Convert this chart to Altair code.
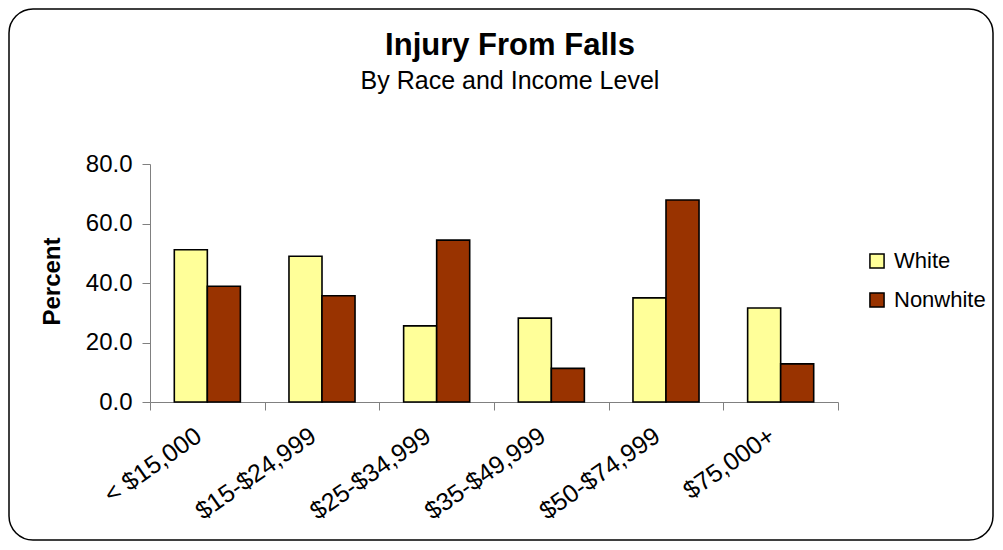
import altair as alt
import pandas as pd

categories = ["< $15,000", "$15-$24,999", "$25-$34,999", "$35-$49,999", "$50-$74,999", "$75,000+"]
white = [51.2, 49.0, 25.6, 28.2, 35.0, 31.6]
nonwhite = [38.9, 35.7, 54.4, 11.3, 67.9, 12.8]
series = ["White", "Nonwhite"]
colors = ["#FFFF99", "#993300"]
y_ticks = [0, 20, 40, 60, 80]

rows = []
for c, w, n in zip(categories, white, nonwhite):
    rows.append({"income": c, "race": "White", "pct": w})
    rows.append({"income": c, "race": "Nonwhite", "pct": n})
df = pd.DataFrame(rows)

FONT = "Liberation Sans"

bars = alt.Chart(df).mark_bar(stroke="black", strokeWidth=1.6).encode(
    x=alt.X("income:N", sort=categories,
            scale=alt.Scale(paddingInner=0, paddingOuter=0),
            axis=alt.Axis(title=None, labelAngle=-35, labelAlign="right", labelBaseline="top",
                          labelFontSize=25, labelFont=FONT, labelColor="black",
                          labelPadding=13, labelOffset=-16, tickBand="extent", tickSize=8,
                          tickColor="#808080", domainColor="#808080", labelOverlap=False)),
    xOffset=alt.XOffset("race:N", sort=series,
                        scale=alt.Scale(paddingInner=0, paddingOuter=0.736)),
    y=alt.Y("pct:Q", scale=alt.Scale(domain=[0, 80], nice=False),
            axis=alt.Axis(title="Percent", values=y_ticks, format=".1f", grid=False,
                          labelFontSize=24, labelFont=FONT, labelColor="black",
                          labelPadding=10, tickSize=8, tickColor="#808080",
                          domainColor="#808080", titleFont=FONT, titleFontSize=24,
                          titleFontWeight="bold", titleColor="black",
                          titleX=-98, titleY=117, titleBaseline="middle", titleAngle=-90)),
    color=alt.Color("race:N", sort=series,
                    scale=alt.Scale(domain=series, range=colors),
                    legend=alt.Legend(title=None, orient="none", legendX=716, legendY=86,
                                      symbolType="square", symbolSize=200,
                                      symbolStrokeColor="black", symbolStrokeWidth=1.5,
                                      labelFontSize=22, labelFont=FONT, labelColor="black",
                                      rowPadding=17, labelOffset=6)),
)

frame = alt.Chart(alt.Data(values=[{}])).mark_rect(
    filled=False, stroke="black", strokeWidth=1.5, cornerRadius=24
).encode(
    x=alt.value(-141), x2=alt.value(843), y=alt.value(-155), y2=alt.value(376)
)

chart = alt.layer(frame, bars).properties(
    width=688, height=238,
    padding={"left": 142, "top": 156, "right": 157, "bottom": 140},
    autosize=alt.AutoSizeParams(type="none"),
    title=alt.TitleParams(text="Injury From Falls", subtitle="By Race and Income Level",
                          font=FONT, fontSize=31, fontWeight="bold", color="black",
                          subtitleFont=FONT, subtitleFontSize=25, subtitleColor="black",
                          subtitlePadding=7, anchor="middle", dx=16, offset=-87),
).configure_view(stroke=None)

chart.save("out.html", embed_options={"renderer": "svg", "actions": False})
